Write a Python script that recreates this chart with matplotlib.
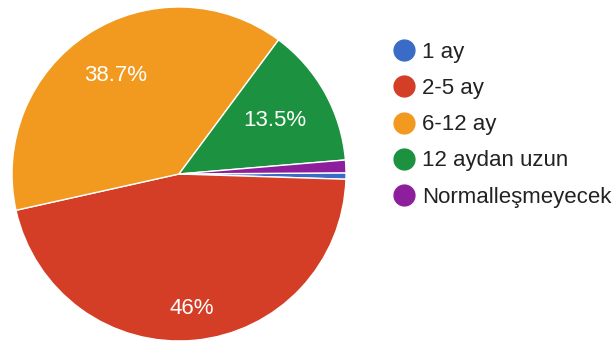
import numpy as np
import matplotlib.pyplot as plt
from matplotlib.lines import Line2D

plt.rcParams["font.family"] = ["Liberation Sans", "DejaVu Sans"]

labels = ["1 ay", "2-5 ay", "6-12 ay", "12 aydan uzun", "Normalleşmeyecek"]
counts = [1, 75, 63, 22, 2]
pct_text = ["", "46%", "38.7%", "13.5%", ""]
colors = ["#3a6bc6", "#d43d26", "#f29a1f", "#1c913f", "#8e1f9c"]

fig = plt.figure(figsize=(6.16, 3.42), dpi=100)
ax = fig.add_axes([12 / 616, 1 / 342, 334 / 616, 334 / 342])

wedges, _ = ax.pie(
    counts,
    colors=colors,
    startangle=0.4,
    counterclock=False,
    radius=1,
    wedgeprops={"edgecolor": "white", "linewidth": 1},
)

label_dist = [0, 0.81, 0.7, 0.66, 0]
for w, txt, d in zip(wedges, pct_text, label_dist):
    if not txt:
        continue
    mid = np.deg2rad((w.theta1 + w.theta2) / 2)
    ax.text(d * np.cos(mid), d * np.sin(mid), txt, ha="center", va="center",
            color="white", fontsize=16)

ax.set_xlim(-1, 1)
ax.set_ylim(-1, 1)
ax.set_aspect("equal")
ax.axis("off")

handles = [
    Line2D([], [], marker="o", linestyle="none", markersize=15,
           markerfacecolor=c, markeredgecolor=c)
    for c in colors
]
fig.legend(
    handles, labels,
    loc="upper left",
    bbox_to_anchor=(380 / 616, 1 - 31 / 342),
    frameon=False,
    fontsize=16,
    labelspacing=0.68,
    handletextpad=0.2,
    handlelength=1.2,
    borderpad=0,
    labelcolor="#222222",
)

fig.savefig("out.png", dpi=100)
